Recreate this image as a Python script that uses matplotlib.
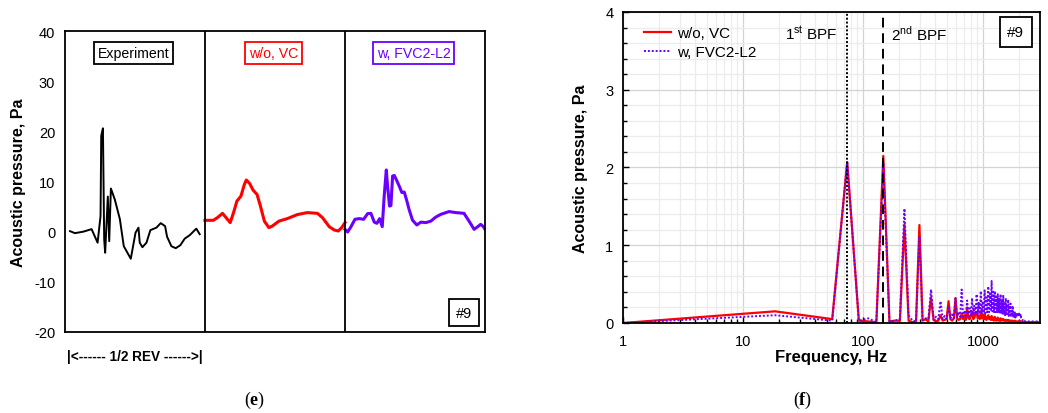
import numpy as np
import matplotlib
matplotlib.use("Agg")
import matplotlib.pyplot as plt
from matplotlib.ticker import FixedLocator, NullFormatter, MultipleLocator

plt.rcParams["font.family"] = ["Liberation Sans", "DejaVu Sans"]
plt.rcParams["mathtext.fontset"] = "custom"
plt.rcParams["mathtext.rm"] = "Liberation Sans"
plt.rcParams["mathtext.bf"] = "Liberation Serif:bold"
plt.rcParams["axes.unicode_minus"] = False

# ---------------- (e) pressure waveforms over 1/2 revolution ----------------
# phase runs 0..1 inside each of the three windows
exp_phase = [0.036, 0.071, 0.131, 0.19, 0.233, 0.254, 0.259, 0.271, 0.28, 0.287,
             0.306, 0.316, 0.328, 0.356, 0.392, 0.42, 0.47, 0.504, 0.525, 0.534,
             0.553, 0.582, 0.61, 0.653, 0.684, 0.715, 0.729, 0.76, 0.791, 0.824,
             0.855, 0.891, 0.938, 0.962]
exp_pa = [0.1, -0.3, 0.0, 0.5, -2.2, 3.1, 19.1, 20.6, -1.5, -4.2,
          7.0, -1.9, 8.6, 6.4, 2.5, -2.9, -5.4, -0.2, 0.8, -2.2,
          -3.1, -2.2, 0.3, 0.8, 1.7, 1.1, -1.0, -2.9, -3.3, -2.7,
          -1.4, -0.7, 0.6, -0.5]

novc_phase = [0.0, 0.06, 0.089, 0.125, 0.156, 0.18, 0.204, 0.228, 0.257, 0.281,
              0.295, 0.319, 0.343, 0.372, 0.396, 0.424, 0.456, 0.48, 0.528, 0.588,
              0.659, 0.731, 0.803, 0.839, 0.887, 0.923, 0.952, 0.976, 1.0]
novc_pa = [2.26, 2.26, 2.8, 3.65, 2.6, 1.8, 3.8, 6.1, 7.1, 9.4,
           10.3, 9.6, 8.3, 7.4, 5.1, 2.1, 0.8, 1.1, 2.1, 2.6,
           3.4, 3.8, 3.65, 2.8, 1.0, 0.33, 0.13, 0.8, 1.8]

fvc_phase = [0.0, 0.019, 0.043, 0.071, 0.102, 0.133, 0.162, 0.185, 0.209, 0.228,
             0.247, 0.266, 0.28, 0.295, 0.304, 0.318, 0.328, 0.34, 0.352, 0.371,
             0.387, 0.406, 0.423, 0.439, 0.458, 0.482, 0.513, 0.542, 0.577, 0.613,
             0.648, 0.684, 0.743, 0.791, 0.85, 0.886, 0.922, 0.945, 0.969, 0.988,
             1.0]
fvc_pa = [0.46, -0.07, 1.0, 2.46, 2.6, 2.46, 3.6, 3.65, 1.9, 1.66,
          2.6, 1.0, 7.1, 12.3, 9.1, 5.1, 5.2, 11.1, 11.2, 10.1,
          9.1, 7.8, 7.9, 6.4, 4.4, 2.3, 1.33, 1.9, 1.8, 2.1,
          2.9, 3.45, 4.0, 3.8, 3.65, 2.1, 0.46, 0.93, 1.46, 1.0,
          0.46]

window_titles = ["Experiment", "w/o, VC", "w, FVC2-L2"]

# ---------------- (f) spectra ----------------
BIN_HZ = 18.5  # frequency resolution; BPF = 4 bins
low_freq_hz = [1.0, 18.5, 55.5]
novc_low = [0.0, 0.15, 0.05]
fvc_low = [0.0, 0.10, 0.03]
# rows: [BPF harmonic n (bin 4n), bin 4n+1, bin 4n+2, bin 4n+3], n = 1..40
novc_rows = [
    [2.07, 0.03, 0.02, 0.01], [2.15, 0.02, 0.03, 0.03], [1.27, 0.03, 0.01, 0.02],
    [1.26, 0.03, 0.05, 0.02], [0.33, 0.04, 0.02, 0.03], [0.10, 0.03, 0.04, 0.05],
    [0.28, 0.05, 0.03, 0.06], [0.32, 0.06, 0.04, 0.05], [0.12, 0.05, 0.10, 0.04],
    [0.20, 0.06, 0.05, 0.10], [0.15, 0.05, 0.07, 0.12], [0.14, 0.06, 0.09, 0.05],
    [0.15, 0.06, 0.10, 0.05], [0.12, 0.05, 0.04, 0.08], [0.10, 0.05, 0.07, 0.04],
    [0.09, 0.04, 0.06, 0.03], [0.08, 0.04, 0.03, 0.05], [0.07, 0.03, 0.05, 0.03],
    [0.06, 0.03, 0.03, 0.05], [0.05, 0.03, 0.04, 0.03], [0.04, 0.03, 0.04, 0.03],
    [0.04, 0.03, 0.03, 0.02], [0.03, 0.02, 0.03, 0.02], [0.03, 0.02, 0.02, 0.02],
    [0.03, 0.02, 0.02, 0.02], [0.02, 0.02, 0.02, 0.01], [0.02, 0.01, 0.02, 0.01],
    [0.02, 0.01, 0.01, 0.01], [0.01, 0.01, 0.01, 0.01], [0.01, 0.01, 0.01, 0.01],
    [0.01, 0.01, 0.01, 0.01], [0.01, 0.01, 0.01, 0.01], [0.01, 0.01, 0.01, 0.01],
    [0.01, 0.01, 0.01, 0.01], [0.01, 0.01, 0.01, 0.01], [0.01, 0.01, 0.01, 0.01],
    [0.01, 0.01, 0.01, 0.01], [0.01, 0.01, 0.01, 0.01], [0.01, 0.01, 0.01, 0.01],
    [0.01, 0.01, 0.01, 0.01],
]
fvc_rows = [
    [2.07, 0.03, 0.06, 0.01], [2.06, 0.02, 0.03, 0.05], [1.47, 0.10, 0.03, 0.02],
    [1.12, 0.04, 0.06, 0.05], [0.43, 0.04, 0.08, 0.05], [0.28, 0.05, 0.09, 0.05],
    [0.22, 0.06, 0.11, 0.06], [0.32, 0.07, 0.14, 0.08], [0.43, 0.08, 0.16, 0.09],
    [0.29, 0.09, 0.19, 0.10], [0.32, 0.10, 0.22, 0.11], [0.37, 0.11, 0.26, 0.12],
    [0.41, 0.12, 0.28, 0.13], [0.42, 0.13, 0.33, 0.14], [0.47, 0.14, 0.38, 0.15],
    [0.54, 0.15, 0.40, 0.14], [0.41, 0.14, 0.34, 0.13], [0.38, 0.13, 0.31, 0.12],
    [0.37, 0.12, 0.28, 0.11], [0.36, 0.11, 0.27, 0.10], [0.32, 0.10, 0.24, 0.09],
    [0.30, 0.09, 0.20, 0.08], [0.25, 0.08, 0.16, 0.08], [0.22, 0.07, 0.13, 0.07],
    [0.15, 0.07, 0.11, 0.08], [0.13, 0.08, 0.11, 0.09], [0.12, 0.09, 0.11, 0.08],
    [0.11, 0.05, 0.05, 0.04], [0.04, 0.03, 0.03, 0.02], [0.03, 0.02, 0.02, 0.02],
    [0.02, 0.02, 0.02, 0.02], [0.02, 0.02, 0.02, 0.02], [0.02, 0.02, 0.02, 0.02],
    [0.02, 0.02, 0.02, 0.02], [0.02, 0.02, 0.02, 0.02], [0.02, 0.02, 0.02, 0.02],
    [0.02, 0.02, 0.02, 0.02], [0.02, 0.02, 0.02, 0.02], [0.02, 0.02, 0.02, 0.02],
    [0.02, 0.02, 0.02, 0.02],
]
BPF_HZ = [74.0, 148.0]

RED = "#ff0000"
PURPLE = "#6a00ff"

fig = plt.figure(figsize=(10.48, 4.14), dpi=100)

# ======================= (e) =======================
axe = fig.add_axes([0.062, 0.1957, 0.4008, 0.727])
axe.plot(np.array(exp_phase), exp_pa, color="black", lw=1.4)
axe.plot(np.array(novc_phase) + 1, novc_pa, color=RED, lw=2.2)
axe.plot(np.array(fvc_phase) + 2, fvc_pa, color=PURPLE, lw=2.2)
for xv in (1, 2):
    axe.axvline(xv, color="black", lw=1.3)
axe.set_xlim(0, 3)
axe.set_ylim(-20, 40)
axe.set_yticks([-20, -10, 0, 10, 20, 30, 40])
axe.set_xticks([])
axe.tick_params(axis="y", length=0, pad=7, labelsize=10.5)
for s in axe.spines.values():
    s.set_linewidth(1.3)
axe.set_ylabel("Acoustic pressure, Pa", fontsize=11.5, fontweight="bold", labelpad=6)

for i, (title, col) in enumerate(zip(window_titles, ["black", RED, PURPLE])):
    axe.text(i + 0.49, 35.7, title, color=col, fontsize=10.2, ha="center", va="center",
             bbox=dict(boxstyle="square,pad=0.28", fc="white", ec=col, lw=1.3))
axe.text(2.85, -16.2, "#9", fontsize=10.5, ha="center", va="center",
         bbox=dict(boxstyle="square,pad=0.45", fc="white", ec="black", lw=1.3))

fig.text(67 / 1048, 1 - 357 / 414, "|<------ 1/2 REV ------>|", fontsize=9.8,
         fontweight="bold", ha="left", va="center")

# ======================= (f) =======================
axf = fig.add_axes([0.5945, 0.2174, 0.3979, 0.7512])
freq_hz = np.concatenate([low_freq_hz, BIN_HZ * np.arange(4, 4 + 4 * len(novc_rows))])
novc_amp = np.concatenate([novc_low, np.ravel(novc_rows)])
fvc_amp = np.concatenate([fvc_low, np.ravel(fvc_rows)])

axf.set_xscale("log")
axf.set_xlim(1, 3000)
axf.set_ylim(0, 4)
axf.grid(which="major", color="#d4d4d4", lw=0.9)
axf.grid(which="minor", color="#ececec", lw=0.9)
axf.set_axisbelow(True)
axf.yaxis.set_major_locator(MultipleLocator(1))
axf.yaxis.set_minor_locator(MultipleLocator(0.2))
axf.set_xticks([1, 10, 100, 1000])
axf.set_xticklabels(["1", "10", "100", "1000"])
axf.xaxis.set_minor_locator(FixedLocator(
    [m * 10 ** e for e in range(0, 4) for m in range(2, 10) if m * 10 ** e < 3000]))
axf.xaxis.set_minor_formatter(NullFormatter())
axf.tick_params(which="both", direction="in", labelsize=10.5)
axf.tick_params(which="major", length=4, width=1.0)
axf.tick_params(which="minor", length=3, width=1.0)
axf.tick_params(axis="x", pad=8)
axf.tick_params(axis="y", pad=7)
for s in axf.spines.values():
    s.set_linewidth(1.3)

axf.plot(freq_hz, novc_amp, color=RED, lw=1.6, label="w/o, VC")
axf.plot(freq_hz, fvc_amp, color=PURPLE, lw=1.4, ls=(0, (1, 1)), label="w, FVC2-L2")
axf.axvline(BPF_HZ[0], color="black", lw=1.4, ls=(0, (1, 1)))
axf.axvline(BPF_HZ[1], color="black", lw=1.4, ls=(0, (5, 3)))

axf.text(BPF_HZ[0] * 0.83, 3.73, "1$^{\\mathrm{st}}$ BPF", fontsize=11, ha="right", va="center")
axf.text(BPF_HZ[1] * 1.15, 3.73, "2$^{\\mathrm{nd}}$ BPF", fontsize=11, ha="left", va="center")
axf.text(0.942, 0.936, "#9", transform=axf.transAxes, fontsize=11, ha="center", va="center",
         bbox=dict(boxstyle="square,pad=0.5", fc="white", ec="black", lw=1.3))

axf.legend(loc="upper left", bbox_to_anchor=(0.035, 0.975), frameon=False, fontsize=11,
           handlelength=1.8, handletextpad=0.4, labelspacing=0.35, borderaxespad=0)

axf.set_xlabel("Frequency, Hz", fontsize=12, fontweight="bold", labelpad=1)
axf.set_ylabel("Acoustic pressure, Pa", fontsize=11.5, fontweight="bold", labelpad=12)

# panel captions
for xpix, letter in ((255, "e"), (803, "f")):
    fig.text(xpix / 1048, 1 - 400 / 414, "($\\mathbf{" + letter + "}$)", fontsize=13,
             ha="center", va="center", family=["Liberation Serif", "DejaVu Serif"])

fig.savefig("out.png", dpi=100)
